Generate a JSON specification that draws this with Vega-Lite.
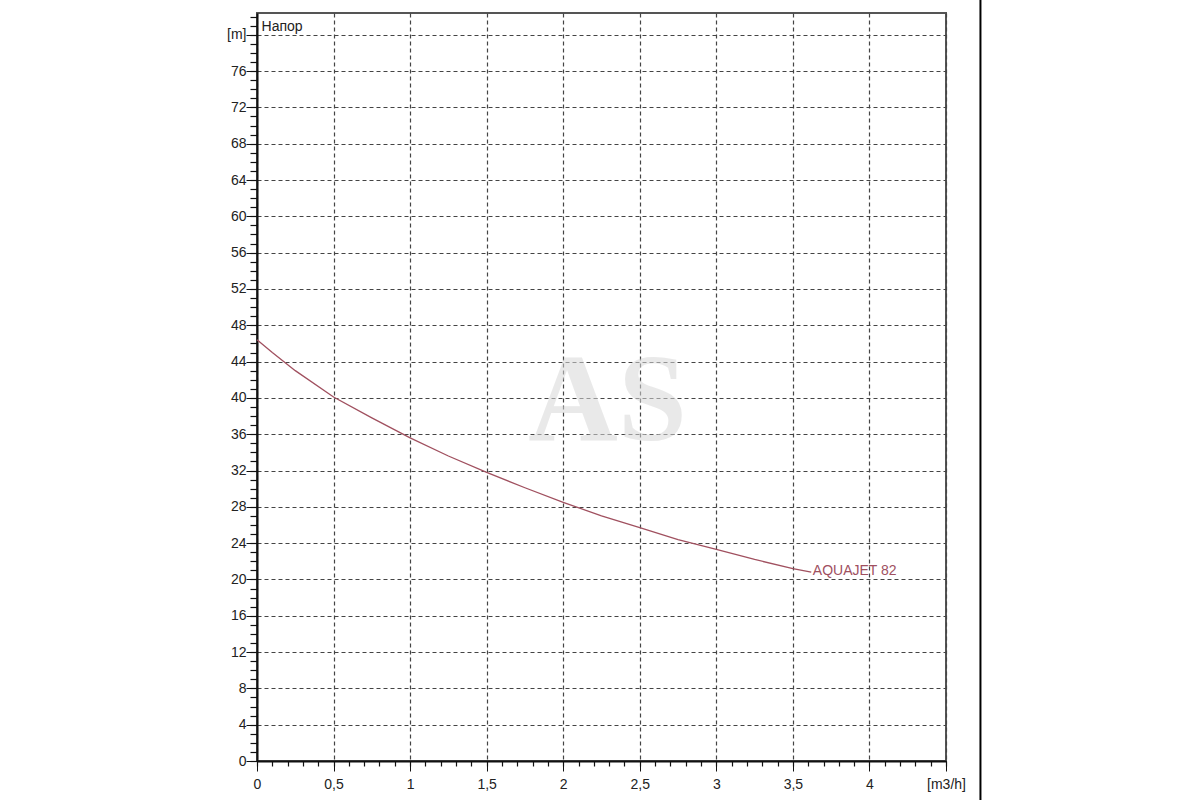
{
  "$schema": "https://vega.github.io/schema/vega-lite/v6.json",
  "autosize": {"type": "none"},
  "padding": {"left": 257, "top": 13, "right": 254, "bottom": 39},
  "width": 689,
  "height": 748,
  "background": "white",
  "config": {
    "font": "Liberation Sans",
    "view": {"stroke": "#555555", "strokeWidth": 2},
    "axis": {
      "labelFont": "Liberation Sans",
      "labelFontSize": 14,
      "labelColor": "#222222",
      "domainColor": "#111111",
      "tickColor": "#111111",
      "gridColor": "#444444",
      "gridDash": [4, 3],
      "gridWidth": 1.2,
      "title": null
    }
  },
  "datasets": {
    "curve": [
      {"q": 0.0, "h": 46.4},
      {"q": 0.1, "h": 45.0},
      {"q": 0.25, "h": 43.0},
      {"q": 0.5, "h": 40.1},
      {"q": 0.75, "h": 37.8},
      {"q": 1.0, "h": 35.6},
      {"q": 1.25, "h": 33.6},
      {"q": 1.5, "h": 31.8},
      {"q": 1.75, "h": 30.1},
      {"q": 2.0, "h": 28.5},
      {"q": 2.25, "h": 27.0},
      {"q": 2.5, "h": 25.7},
      {"q": 2.75, "h": 24.4},
      {"q": 3.0, "h": 23.3},
      {"q": 3.25, "h": 22.2},
      {"q": 3.5, "h": 21.2},
      {"q": 3.62, "h": 20.8}
    ],
    "labels": [
      {"q": 3.63, "h": 20.9, "text": "AQUAJET 82"}
    ],
    "corner": [
      {"q": 0.03, "h": 80.9, "text": "Напор"}
    ],
    "mark": [
      {"q": 2.29, "h": 35.4, "text": "AS"}
    ],
    "border": [
      {"q": 4.725, "h": -6, "h2": 86}
    ]
  },
  "layer": [
    {
      "data": {"name": "mark"},
      "mark": {"type": "text", "font": "Liberation Serif", "fontWeight": "bold", "fontSize": 124, "align": "center", "baseline": "alphabetic", "color": "#d8d8d8", "opacity": 0.55},
      "encoding": {
        "x": {"field": "q", "type": "quantitative", "scale": {"domain": [0, 4.5], "nice": false, "zero": false},
          "axis": {"orient": "bottom", "values": [0, 0.5, 1, 1.5, 2, 2.5, 3, 3.5, 4, 4.5], "labelExpr": "datum.value == 4.5 ? '[m3/h]' : replace(format(datum.value, ''), '.', ',')", "tickSize": 10, "domainWidth": 2, "labelPadding": 6, "grid": true, "labelFlush": false, "labelOverlap": false}},
        "y": {"field": "h", "type": "quantitative", "scale": {"domain": [0, 82.4], "nice": false, "zero": false},
          "axis": {"orient": "left", "values": [0, 4, 8, 12, 16, 20, 24, 28, 32, 36, 40, 44, 48, 52, 56, 60, 64, 68, 72, 76, 80], "labelExpr": "datum.value == 80 ? '[m]' : datum.label", "tickSize": 11, "domainWidth": 2, "labelPadding": 0, "grid": true, "labelOverlap": false, "labelFlush": false}},
        "text": {"field": "text"}
      }
    },
    {
      "data": {"name": "curve"},
      "mark": {"type": "line", "color": "#a0505f", "strokeWidth": 1.3},
      "encoding": {
        "x": {"field": "q", "type": "quantitative", "axis": null},
        "y": {"field": "h", "type": "quantitative", "axis": null}
      }
    },
    {
      "data": {"name": "labels"},
      "mark": {"type": "text", "align": "left", "baseline": "middle", "fontSize": 14, "color": "#a0505f", "font": "Liberation Sans"},
      "encoding": {
        "x": {"field": "q", "type": "quantitative",
          "axis": {"orient": "bottom", "values": [0,0.1,0.2,0.3,0.4,0.5,0.6,0.7,0.8,0.9,1,1.1,1.2,1.3,1.4,1.5,1.6,1.7,1.8,1.9,2,2.1,2.2,2.3,2.4,2.5,2.6,2.7,2.8,2.9,3,3.1,3.2,3.3,3.4,3.5,3.6,3.7,3.8,3.9,4,4.1,4.2,4.3,4.4,4.5], "labels": false, "domain": false, "grid": false, "tickSize": 5, "tickWidth": 1.2}},
        "y": {"field": "h", "type": "quantitative",
          "axis": {"orient": "left", "values": [0,1,2,3,4,5,6,7,8,9,10,11,12,13,14,15,16,17,18,19,20,21,22,23,24,25,26,27,28,29,30,31,32,33,34,35,36,37,38,39,40,41,42,43,44,45,46,47,48,49,50,51,52,53,54,55,56,57,58,59,60,61,62,63,64,65,66,67,68,69,70,71,72,73,74,75,76,77,78,79,80,81,82], "labels": false, "domain": false, "grid": false, "tickSize": 7, "tickWidth": 1.2}},
        "text": {"field": "text"}
      }
    },
    {
      "data": {"name": "corner"},
      "mark": {"type": "text", "align": "left", "baseline": "middle", "fontSize": 14, "color": "#222222", "font": "Liberation Sans"},
      "encoding": {
        "x": {"field": "q", "type": "quantitative", "axis": null},
        "y": {"field": "h", "type": "quantitative", "axis": null},
        "text": {"field": "text"}
      }
    },
    {
      "data": {"name": "border"},
      "mark": {"type": "rule", "color": "#000000", "strokeWidth": 2, "clip": false},
      "encoding": {
        "x": {"field": "q", "type": "quantitative", "axis": null},
        "y": {"field": "h", "type": "quantitative", "axis": null},
        "y2": {"field": "h2"}
      }
    }
  ],
  "resolve": {"axis": {"x": "independent", "y": "independent"}}
}
